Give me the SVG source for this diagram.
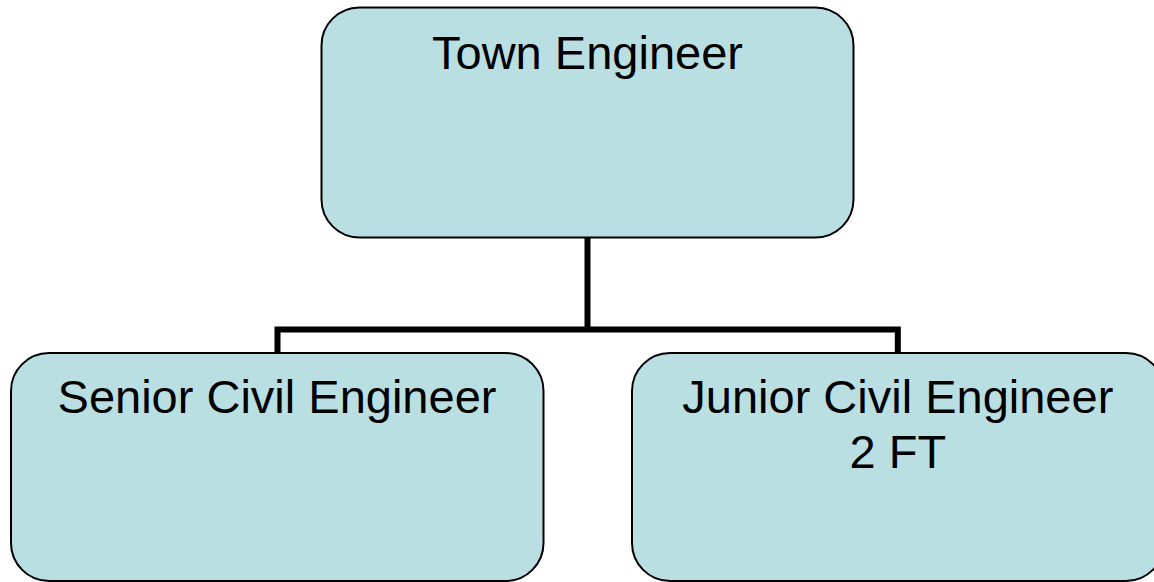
<svg xmlns="http://www.w3.org/2000/svg" width="1154" height="582" viewBox="0 0 1154 582">
<style>
.box{fill:#B9DFE3;stroke:#000;stroke-width:2}
.lbl{font-family:"Liberation Sans",Arial,sans-serif;font-size:47px;fill:#000;text-anchor:middle}
.conn{fill:none;stroke:#000;stroke-width:6;stroke-linejoin:miter}
</style>
<rect width="1154" height="582" fill="#fff"/>
<g id="connectors">
<path class="conn" d="M587.5 237.5 V329.5"/>
<path class="conn" d="M277.5 353 V329.5 H897.8 V353"/>
</g>
<g id="town-engineer">
<rect class="box" x="321.5" y="7.5" width="532" height="230" rx="38" ry="38"/>
<text class="lbl" x="587.5" y="69">Town Engineer</text>
</g>
<g id="senior-civil-engineer">
<rect class="box" x="11" y="353" width="532.5" height="228" rx="38" ry="38"/>
<text class="lbl" x="277" y="413">Senior Civil Engineer</text>
</g>
<g id="junior-civil-engineer">
<rect class="box" x="632" y="353" width="532" height="228" rx="38" ry="38"/>
<text class="lbl" x="897.8" y="413">Junior Civil Engineer</text>
<text class="lbl" x="897.8" y="468">2 FT</text>
</g>
</svg>
